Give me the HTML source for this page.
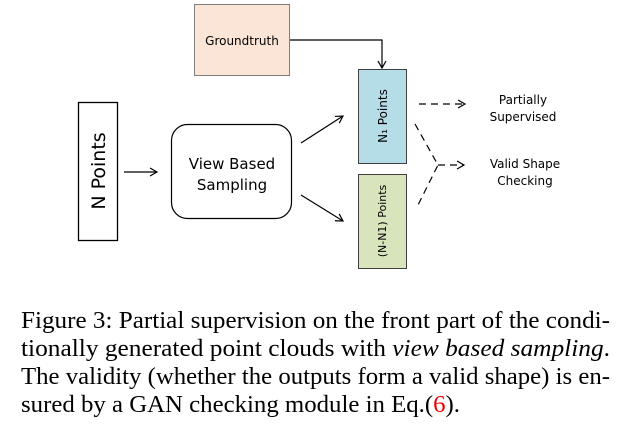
<!DOCTYPE html>
<html><head><meta charset="utf-8"><style>
html,body{margin:0;padding:0;background:#fff;width:633px;height:429px;overflow:hidden}
</style></head><body>
<svg width="633" height="429" viewBox="0 0 633 429" xmlns="http://www.w3.org/2000/svg">
<defs>
<marker id="a" markerWidth="10" markerHeight="10" refX="8" refY="5" orient="auto" markerUnits="userSpaceOnUse">
<path d="M1,1 L8,5 L1,9" fill="none" stroke="#000" stroke-width="1.2"/></marker>
</defs>
<g font-family="'DejaVu Sans','Liberation Sans',sans-serif" fill="#000">
<rect x="194.5" y="4.5" width="95" height="71" fill="#fbe5d6" stroke="#7f7f7f"/>
<text x="242" y="45" font-size="12" text-anchor="middle">Groundtruth</text>
<polyline points="290,40 382,40 382,68" fill="none" stroke="#000" stroke-width="1.2" marker-end="url(#a)"/>
<rect x="358.5" y="69.5" width="48" height="94" fill="#b4dde8" stroke="#404040"/>
<text transform="translate(387,116) rotate(-90)" font-size="12" text-anchor="middle">N₁ Points</text>
<rect x="358.5" y="174.5" width="48" height="94" fill="#d8e4bc" stroke="#404040"/>
<text transform="translate(386,221) rotate(-90)" font-size="11" text-anchor="middle">(N-N1) Points</text>
<rect x="78.5" y="102.5" width="39" height="138" fill="#fff" stroke="#000" stroke-width="1.3"/>
<text transform="translate(105,171) rotate(-90)" font-size="19" text-anchor="middle">N Points</text>
<line x1="124" y1="172" x2="157" y2="172" stroke="#000" stroke-width="1.2" marker-end="url(#a)"/>
<rect x="171.5" y="124.5" width="120" height="94" rx="16" fill="#fff" stroke="#000" stroke-width="1.2"/>
<text x="232" y="169" font-size="15" text-anchor="middle">View Based</text>
<text x="232" y="190" font-size="15" text-anchor="middle">Sampling</text>
<line x1="301" y1="143" x2="343" y2="116" stroke="#000" stroke-width="1.2" marker-end="url(#a)"/>
<line x1="301" y1="195" x2="343" y2="221" stroke="#000" stroke-width="1.2" marker-end="url(#a)"/>
<line x1="419" y1="104" x2="465" y2="104" stroke="#000" stroke-width="1.2" stroke-dasharray="7,5" marker-end="url(#a)"/>
<polyline points="415,124 438,165 417,207" fill="none" stroke="#000" stroke-width="1.2" stroke-dasharray="7,5"/>
<line x1="438" y1="165" x2="464" y2="165" stroke="#000" stroke-width="1.2" stroke-dasharray="7,5" marker-end="url(#a)"/>
<g font-size="12" text-anchor="middle">
<text x="523" y="104">Partially</text>
<text x="523" y="121">Supervised</text>
<text x="525" y="168">Valid Shape</text>
<text x="525" y="185">Checking</text>
</g>
</g>
<g font-family="'Liberation Serif',serif" font-size="24" fill="#000">
<text x="21" y="328" textLength="589" lengthAdjust="spacingAndGlyphs">Figure 3: Partial supervision on the front part of the condi-</text>
<text x="21" y="356" textLength="589" lengthAdjust="spacingAndGlyphs">tionally generated point clouds with <tspan font-style="italic">view based sampling</tspan>.</text>
<text x="21" y="384" textLength="589" lengthAdjust="spacingAndGlyphs">The validity (whether the outputs form a valid shape) is en-</text>
<text x="21" y="412" textLength="439" lengthAdjust="spacingAndGlyphs">sured by a GAN checking module in Eq.(<tspan fill="#e00">6</tspan>).</text>
</g>
</svg>
</body></html>
